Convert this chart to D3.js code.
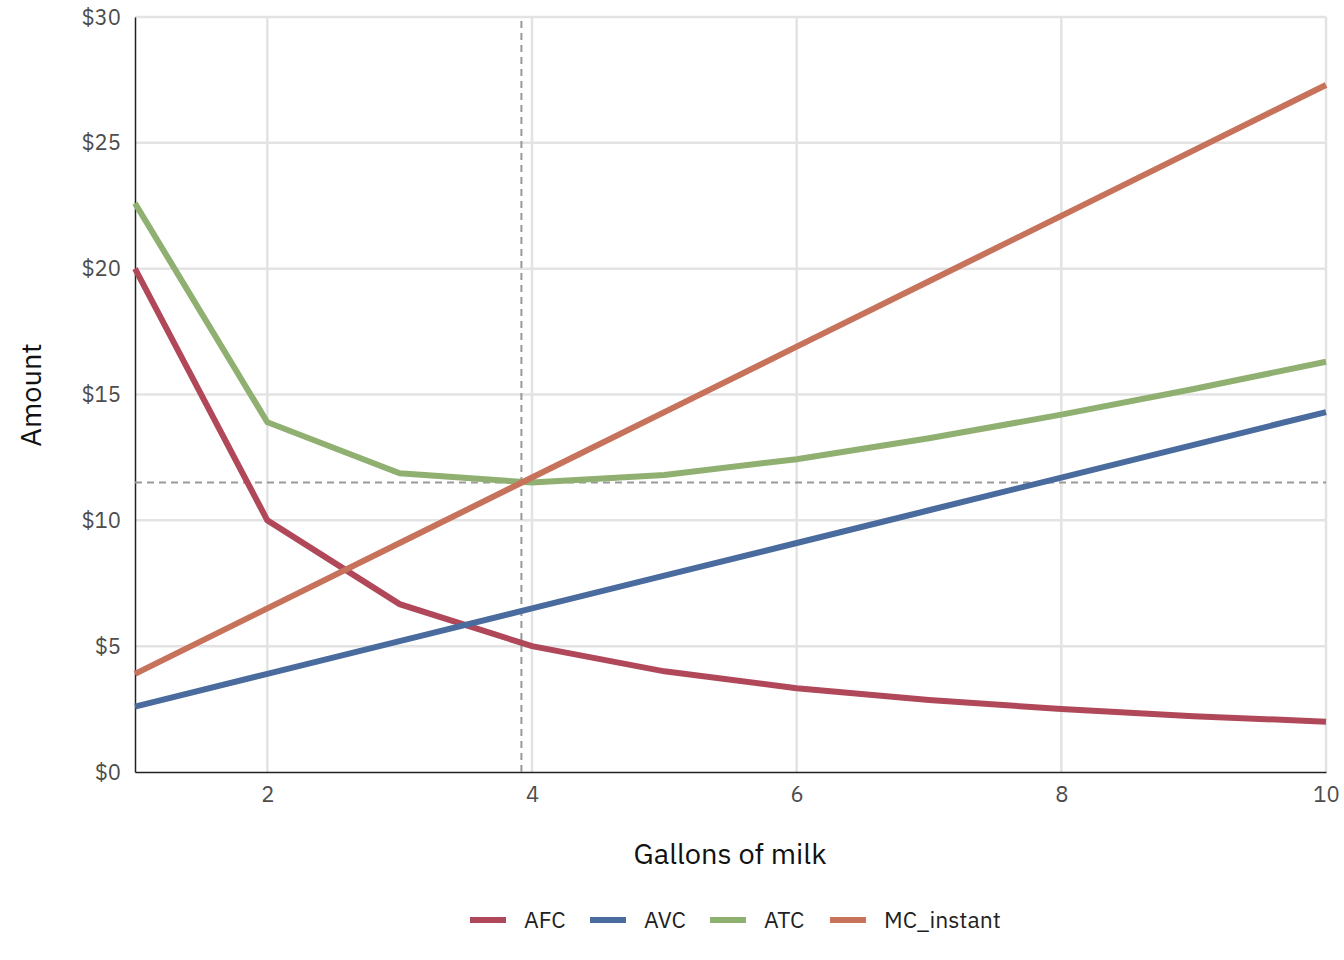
<!DOCTYPE html>
<html><head><meta charset="utf-8">
<script src="https://cdn.jsdelivr.net/npm/d3@7"></script>
<style>body{margin:0;background:#fff}text{font-family:"IBM Plex Sans","Noto Sans",sans-serif}</style>
</head><body>
<svg id="chart" width="1344" height="960" viewBox="0 0 1344 960"></svg>
<script>
const gallons = [1, 2, 3, 4, 5, 6, 7, 8, 9, 10];
const afc = [20, 10, 6.67, 5, 4, 3.33, 2.86, 2.5, 2.22, 2];
const avc = [2.6, 3.9, 5.2, 6.5, 7.8, 9.1, 10.4, 11.7, 13, 14.3];
const atc = [22.6, 13.9, 11.87, 11.5, 11.8, 12.43, 13.26, 14.2, 15.22, 16.3];
const mc = [3.9, 6.5, 9.1, 11.7, 14.3, 16.9, 19.5, 22.1, 24.7, 27.3];
const seriesNames = ["AFC", "AVC", "ATC", "MC_instant"];
const seriesColors = ["#b0485a", "#4a6b9d", "#8fb070", "#c7725a"];
const minQ = 3.92, minATC = 11.5;

const svg = d3.select("#chart");
const x = d3.scaleLinear().domain([1, 10]).range([135, 1326]);
const y = d3.scaleLinear().domain([0, 30]).range([772, 17]);
const g = svg.append("g");

// grid
g.selectAll(".vg").data([2, 4, 6, 8, 10]).enter().append("line")
    .attr("x1", d => x(d)).attr("x2", d => x(d)).attr("y1", y(0)).attr("y2", y(30))
    .attr("stroke", "#e3e3e3").attr("stroke-width", 2.5);
g.selectAll(".hg").data([5, 10, 15, 20, 25, 30]).enter().append("line")
    .attr("x1", x(1)).attr("x2", x(10)).attr("y1", d => y(d)).attr("y2", d => y(d))
    .attr("stroke", "#e3e3e3").attr("stroke-width", 2.5);

// axes
const xa = g.append("g").attr("transform", `translate(0,${y(0)})`)
    .call(d3.axisBottom(x).tickValues([2, 4, 6, 8, 10]).tickSize(0).tickPadding(14));
const ya = g.append("g").attr("transform", `translate(${x(1)},0)`)
    .call(d3.axisLeft(y).tickValues([0, 5, 10, 15, 20, 25, 30]).tickSize(0).tickPadding(14).tickFormat(d => "$" + d));
[xa, ya].forEach(a => {
    a.select(".domain").attr("stroke", "#222").attr("stroke-width", 1.5);
    a.selectAll("text").attr("font-size", 22).attr("fill", "#4d4d4d");
});

// dashed reference lines
g.append("line").attr("x1", x(minQ)).attr("x2", x(minQ)).attr("y1", y(0)).attr("y2", y(30))
    .attr("stroke", "#999").attr("stroke-width", 2).attr("stroke-dasharray", "7,5");
g.append("line").attr("x1", x(1)).attr("x2", x(10)).attr("y1", y(minATC)).attr("y2", y(minATC))
    .attr("stroke", "#999").attr("stroke-width", 2).attr("stroke-dasharray", "7,5");

// series
const line = d3.line().x((d, i) => x(gallons[i])).y(d => y(d));
[afc, avc, atc, mc].forEach((s, k) => {
    g.append("path").datum(s).attr("d", line).attr("fill", "none")
        .attr("stroke", seriesColors[k]).attr("stroke-width", 6);
});

// titles
svg.append("text").attr("x", 730).attr("y", 864).attr("text-anchor", "middle")
    .attr("font-size", 29).attr("fill", "#111").text("Gallons of milk");
svg.append("text").attr("transform", "translate(41,395) rotate(-90)").attr("text-anchor", "middle")
    .attr("font-size", 29).attr("fill", "#111").text("Amount");

// legend
const legX = [470, 590, 710, 830];
seriesNames.forEach((n, k) => {
    svg.append("line").attr("x1", legX[k]).attr("x2", legX[k] + 36).attr("y1", 920).attr("y2", 920)
        .attr("stroke", seriesColors[k]).attr("stroke-width", 6);
    svg.append("text").attr("x", legX[k] + 54).attr("y", 928).attr("font-size", 23)
        .attr("fill", "#222").text(n);
});
</script>
</body></html>
